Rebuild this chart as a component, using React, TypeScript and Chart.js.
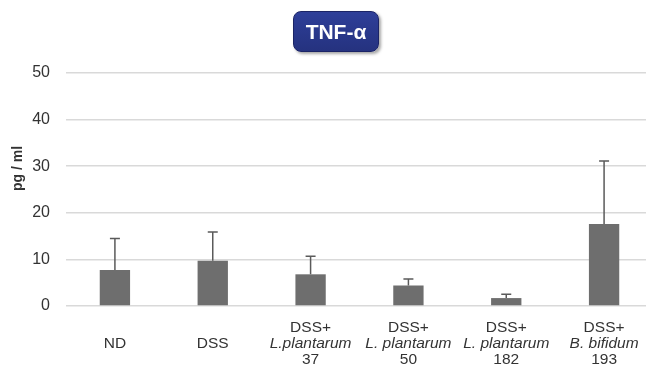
import React, { useEffect, useRef } from "react";
import { Chart, registerables } from "chart.js";

Chart.register(...registerables);

// Groups (multi-line labels: [line1, species (italic), strain])
const groupTop = ["ND", "DSS", "DSS+", "DSS+", "DSS+", "DSS+"];
const groupSpecies = ["", "", "L.plantarum", "L. plantarum", "L. plantarum", "B. bifidum"];
const groupStrain = ["", "", "37", "50", "182", "193"];
const categories = ["ND", "DSS", "DSS+L.plantarum 37", "DSS+L. plantarum 50", "DSS+L. plantarum 182", "DSS+B. bifidum 193"];

// TNF-α concentration (pg/ml): mean and SD
const meanValues = [7.7, 9.7, 6.8, 4.4, 1.7, 17.6];
const sdValues = [6.8, 6.2, 3.9, 1.4, 0.8, 13.5];

const yTicks = [0, 10, 20, 30, 40, 50];

const FONT = "'Liberation Sans', Arial, sans-serif";

const errorBarPlugin = {
  id: "errorBars",
  afterDatasetsDraw(chart: any) {
    const { ctx } = chart;
    const meta = chart.getDatasetMeta(0);
    const y = chart.scales.y;
    ctx.save();
    ctx.strokeStyle = "#5a5a5a";
    ctx.lineWidth = 1.5;
    meta.data.forEach((bar: any, i: number) => {
      const yTop = y.getPixelForValue(meanValues[i] + sdValues[i]);
      const yBase = y.getPixelForValue(meanValues[i]);
      ctx.beginPath();
      ctx.moveTo(bar.x, yBase);
      ctx.lineTo(bar.x, yTop);
      ctx.moveTo(bar.x - 5, yTop);
      ctx.lineTo(bar.x + 5, yTop);
      ctx.stroke();
    });
    ctx.restore();
  },
};

const labelPlugin = {
  id: "groupLabels",
  afterDraw(chart: any) {
    const { ctx, chartArea } = chart;
    const x = chart.scales.x;
    ctx.save();
    ctx.fillStyle = "#333333";
    ctx.textAlign = "center";
    ctx.textBaseline = "middle";
    const mid = chartArea.bottom + 38;
    const lh = 16;
    const size = 15.5;
    groupTop.forEach((top, i) => {
      const cx = x.getPixelForValue(i);
      if (groupSpecies[i]) {
        ctx.font = `${size}px ${FONT}`;
        ctx.fillText(top, cx, mid - lh);
        ctx.font = `italic ${size}px ${FONT}`;
        ctx.fillText(groupSpecies[i], cx, mid);
        ctx.font = `${size}px ${FONT}`;
        ctx.fillText(groupStrain[i], cx, mid + lh);
      } else {
        ctx.font = `${size}px ${FONT}`;
        ctx.fillText(top, cx, mid);
      }
    });
    // y-axis title
    ctx.translate(18, chartArea.top + (chartArea.bottom - chartArea.top) * 0.41);
    ctx.rotate(-Math.PI / 2);
    ctx.font = `bold 14px ${FONT}`;
    ctx.fillText("pg / ml", 0, 0);
    ctx.restore();
  },
};

export default function App() {
  const canvasRef = useRef<HTMLCanvasElement | null>(null);

  useEffect(() => {
    document.body.style.margin = "0";
    const chart = new Chart(canvasRef.current as HTMLCanvasElement, {
      type: "bar",
      data: {
        labels: categories,
        datasets: [
          {
            data: meanValues,
            backgroundColor: "#6e6e6e",
            barPercentage: 0.62,
            categoryPercentage: 0.5,
          },
        ],
      },
      options: {
        responsive: false,
        animation: false,
        layout: { padding: { top: 73, right: 7, bottom: 62, left: 0 } },
        plugins: { legend: { display: false }, tooltip: { enabled: false } },
        scales: {
          x: {
            ticks: { display: false },
            grid: { display: false },
            border: { display: false },
          },
          y: {
            min: 0,
            max: 50,
            afterBuildTicks(scale: any) {
              scale.ticks = yTicks.map((v) => ({ value: v }));
            },
            afterFit(scale: any) {
              scale.width = 66;
            },
            ticks: {
              padding: 16,
              color: "#333333",
              font: { family: FONT, size: 16 },
            },
            grid: { color: "#d9d9d9", lineWidth: 1.5, drawTicks: false },
            border: { display: false },
          },
        },
      },
      plugins: [errorBarPlugin, labelPlugin],
    });
    return () => chart.destroy();
  }, []);

  return (
    <div style={{ position: "fixed", left: 0, top: 0, width: 646, height: 376, overflow: "hidden", background: "#fff" }}>
      <canvas ref={canvasRef} width={660} height={376} style={{ display: "block" }} />
      <div
        style={{
          position: "absolute",
          left: 293,
          top: 11,
          width: 86,
          height: 41,
          borderRadius: 8,
          background: "linear-gradient(#2e3f99, #25327f)",
          border: "1px solid #1b2466",
          boxShadow: "2px 2px 3px rgba(0,0,0,0.35)",
          color: "#ffffff",
          fontFamily: FONT,
          fontWeight: "bold",
          fontSize: 21,
          display: "flex",
          alignItems: "center",
          justifyContent: "center",
          boxSizing: "border-box",
        }}
      >
        TNF-α
      </div>
    </div>
  );
}
